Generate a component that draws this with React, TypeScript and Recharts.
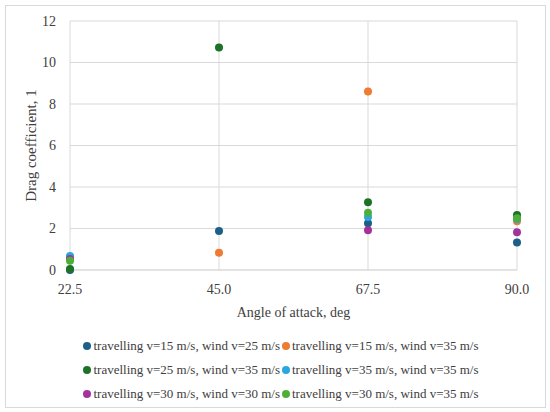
import React from "react";
import {
  ScatterChart,
  Scatter,
  XAxis,
  YAxis,
  CartesianGrid,
} from "recharts";

// angle of attack, deg
const angles = [22.5, 45, 67.5, 90];
const yTicks = [0, 2, 4, 6, 8, 10, 12];

// drag coefficient per series (null = no measurement)
const t15w25 = [0.0, 1.88, 2.25, 1.33];
const t15w35 = [0.6, 0.83, 8.6, 2.35];
const t25w35 = [0.05, 10.72, 3.27, 2.65];
const t35w35 = [0.68, null, 2.56, 2.45];
const t30w30 = [0.53, null, 1.92, 1.82];
const t30w35 = [0.44, null, 2.76, 2.5];

const seriesNames = [
  "travelling v=15 m/s, wind v=25 m/s",
  "travelling v=15 m/s, wind v=35 m/s",
  "travelling v=25 m/s, wind v=35 m/s",
  "travelling v=35 m/s, wind v=35 m/s",
  "travelling v=30 m/s, wind v=30 m/s",
  "travelling v=30 m/s, wind v=35 m/s",
];
const seriesValues = [t15w25, t15w35, t25w35, t35w35, t30w30, t30w35];
const colors = ["#1c5f87", "#ef7a32", "#1b7327", "#2ba6df", "#a4329d", "#4daf37"];

const font = "Liberation Serif";

const toPoints = (values: (number | null)[]) =>
  angles
    .map((angle, i) => ({ angle, cd: values[i] }))
    .filter((p) => p.cd != null);

const Dot = (props: any) => {
  const { cx, cy, fill } = props;
  if (cx == null || cy == null) return null;
  return <circle cx={cx} cy={cy} r={4} fill={fill} />;
};

export default function App() {
  return (
    <div style={{ position: "absolute", left: 0, top: 0, width: 550, height: 412, background: "#fff", fontFamily: font }}>
      <div
        style={{
          position: "absolute",
          left: 5,
          top: 5,
          width: 539,
          height: 401,
          border: "1px solid #d9d9d9",
        }}
      />
      <div style={{ position: "absolute", left: 0, top: 0 }}>
        <ScatterChart
          width={550}
          height={412}
          margin={{ top: 21, right: 33, bottom: 95, left: 20 }}
          style={{ fontFamily: font }}
        >
          <CartesianGrid stroke="#d9d9d9" strokeWidth={1} />
          <XAxis
            type="number"
            dataKey="angle"
            domain={[22.5, 90]}
            ticks={angles}
            tickFormatter={(v: number) => v.toFixed(1)}
            axisLine={{ stroke: "#d9d9d9" }}
            tickLine={false}
            tick={{ fill: "#404040", fontSize: 14, fontFamily: font }}
            tickMargin={8}
            height={47}
            label={{
              value: "Angle of attack, deg",
              position: "insideBottom",
              offset: 0,
              fill: "#404040",
              fontSize: 14,
              fontFamily: font,
            }}
          />
          <YAxis
            type="number"
            dataKey="cd"
            domain={[0, 12]}
            ticks={yTicks}
            axisLine={false}
            tickLine={false}
            tick={{ fill: "#404040", fontSize: 14, fontFamily: font }}
            tickMargin={8}
            width={50}
            label={{
              value: "Drag coefficient, 1",
              angle: -90,
              position: "insideLeft",
              offset: 11,
              style: { textAnchor: "middle" },
              fill: "#404040",
              fontSize: 15,
              fontFamily: font,
            }}
          />
          {seriesValues.map((values, i) => (
            <Scatter
              key={seriesNames[i]}
              name={seriesNames[i]}
              data={toPoints(values)}
              fill={colors[i]}
              shape={<Dot />}
              isAnimationActive={false}
            />
          ))}
        </ScatterChart>
      </div>
      <div
        style={{
          position: "absolute",
          left: 6,
          top: 336,
          width: 550,
          display: "flex",
          justifyContent: "center",
          fontSize: 13,
          color: "#404040",
        }}
      >
        <div
          style={{
            display: "grid",
            gridTemplateColumns: "auto auto",
            rowGap: 4,
            columnGap: 2,
          }}
        >
          {seriesNames.map((name, i) => (
            <div key={name} style={{ display: "flex", alignItems: "center", height: 20, whiteSpace: "nowrap" }}>
              <span
                style={{
                  display: "inline-block",
                  width: 8,
                  height: 8,
                  borderRadius: 4,
                  background: colors[i],
                  marginRight: 2,
                }}
              />
              {name}
            </div>
          ))}
        </div>
      </div>
    </div>
  );
}
